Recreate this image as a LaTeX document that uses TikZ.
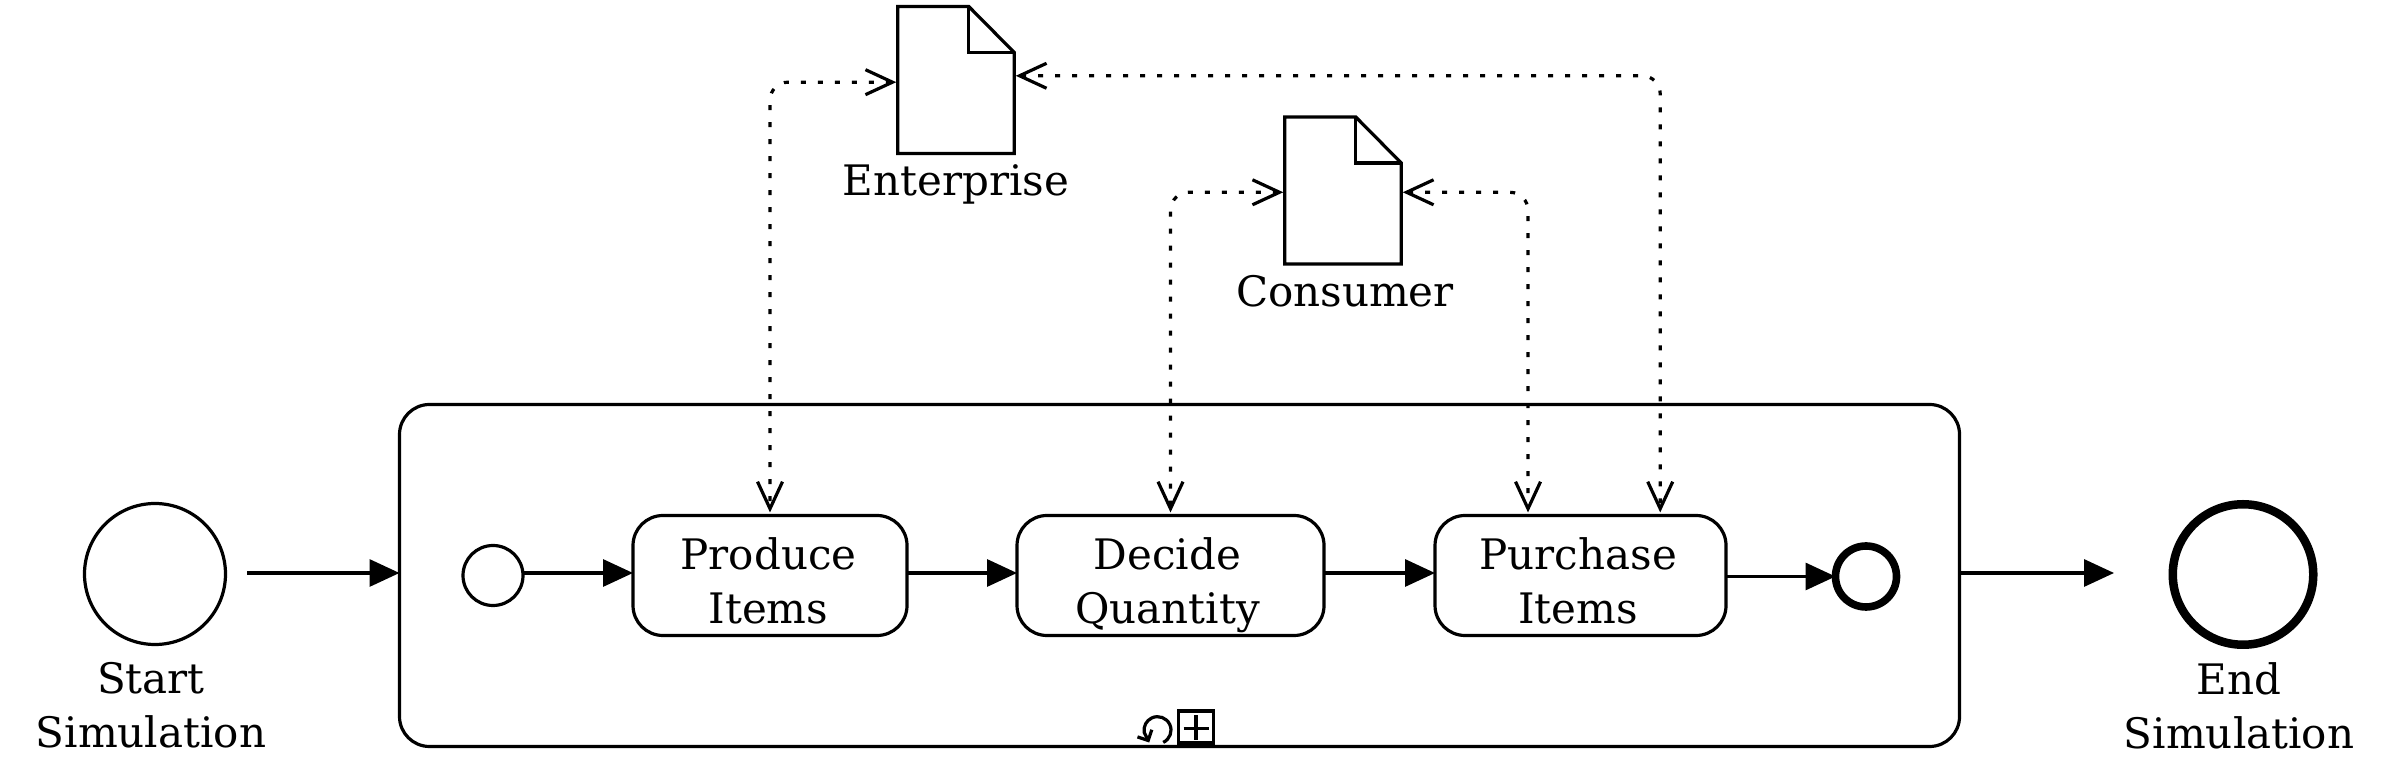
\documentclass[tikz,border=0pt]{standalone}
\usepackage{fontspec}
\setmainfont{DejaVu Serif}
\usepackage{tikz}
\usetikzlibrary{positioning}
\usetikzlibrary{arrows.meta}
\newcommand{\boxtext}[3]{\hspace*{#1}\rule{0pt}{0.42cm}#2\\\hspace*{#1}\smash{#3}}
\tikzset{
block/.style = {draw, rectangle, rounded corners=0.3cm, minimum height=1.2cm, inner sep=0pt, outer sep=0pt, align=center, font=\fontsize{11.95}{15.4}\selectfont},
event/.style = {draw, circle, inner sep=0pt, outer sep=0pt},
doc/.style = {rectangle, minimum width=1.165cm, minimum height=1.47cm, inner sep=0pt, outer sep=0pt},
caption/.style = {inner sep=0pt, outer sep=0pt, align=center, font=\fontsize{11.95}{15.4}\selectfont},
seq/.style = {-{Triangle[length=0.3cm,width=0.27cm]}},
assoc/.style = {dash pattern=on 0.05cm off 0.12cm, rounded corners=0.18cm, shorten <=0.015cm, shorten >=0.03cm,
  {Straight Barb[length=0.27cm,width=0.25cm]}-{Straight Barb[length=0.27cm,width=0.25cm]}}
}
\begin{document}
\begin{tikzpicture}[line width=0.032cm]
    \useasboundingbox (0,0) rectangle (23.97,7.77);
    % We start by placing the events and the blocks
    \node [event, minimum size=1.41cm] (start) at (1.55,2.03) {};
    \node [caption, below=0.18cm of start, xshift=-0.04cm] (startname) {Start\\Simulation};
    \node [draw, rectangle, rounded corners=0.3cm, minimum width=15.6cm, minimum height=3.42cm, outer sep=0pt] (frame) at (11.795,2.015) {};
    \node [event, minimum size=0.6cm] (inner) at (4.93,2.015) {};
    \node [block, minimum width=2.74cm, right=1.10cm of inner] (produce) {\boxtext{-0.03cm}{Produce}{Items}};
    \node [block, minimum width=3.07cm, right=1.10cm of produce] (decide) {\boxtext{-0.06cm}{Decide}{Quantity}};
    \node [block, minimum width=2.91cm, right=1.11cm of decide] (purchase) {\boxtext{-0.046cm}{Purchase}{Items}};
    \node [event, line width=0.076cm, minimum size=0.61cm] (innerend) at (18.66,2.005) {};
    \node [event, line width=0.085cm, minimum size=1.405cm] (end) at (22.43,2.025) {};
    \node [caption, below=0.18cm of end, xshift=-0.04cm] (endname) {End\\Simulation};
    \node [doc] (enterprise) at (9.56,6.97) {};
    \node [doc] (consumer) at (13.43,5.865) {};
    \node [caption, below=0.115cm of enterprise] (enterprisename) {Enterprise};
    \node [caption, below=0.115cm of consumer, xshift=0.02cm] (consumername) {Consumer};
    \coordinate [right=0.215cm of start, yshift=0.01cm] (startout);
    \coordinate (endin) at (21.14,2.04);

    % Document outlines
    \foreach \doc in {enterprise,consumer} {
      \draw ([xshift=-0.455cm]\doc.north east) -- ([yshift=-0.46cm]\doc.north east) -- (\doc.south east) -- (\doc.south west) -- (\doc.north west) -- cycle;
      \draw ([xshift=-0.455cm]\doc.north east) |- ([yshift=-0.46cm]\doc.north east);
    }

    \draw [seq] (startout) -- (frame.west |- startout);
    \draw [seq] ([yshift=0.025cm]inner.east) -- ([yshift=0.025cm]produce.west);
    \draw [seq] ([yshift=0.025cm]produce.east) -- ([yshift=0.025cm]decide.west);
    \draw [seq] ([yshift=0.025cm]decide.east) -- ([yshift=0.025cm]purchase.west);
    \draw [seq] (purchase.east |- innerend.west) -- (innerend.west);
    \draw [seq] (frame.east |- endin) -- (endin);

    \draw [assoc] ([yshift=-0.022cm]enterprise.west) -| (produce.north);
    \draw [assoc] ([yshift=0.042cm]enterprise.east) -| ([xshift=0.797cm]purchase.north);
    \draw [assoc] ([yshift=-0.018cm]consumer.west) -| (decide.north);
    \draw [assoc] ([yshift=-0.018cm]consumer.east) -| ([xshift=-0.525cm]purchase.north);

    % Loop and sub-process markers
    \node [draw, rectangle, minimum width=0.35cm, minimum height=0.32cm, inner sep=0pt, outer sep=0pt, anchor=south] (plusbox) at ([shift={(0.165cm,0.035cm)}]frame.south) {};
    \draw ([shift={(0.05cm,-0.015cm)}]plusbox.west) -- ([shift={(-0.05cm,-0.015cm)}]plusbox.east);
    \draw ([yshift=-0.045cm]plusbox.north) -- ([yshift=0.025cm]plusbox.south);
    \draw [-{Straight Barb[length=0.08cm,width=0.16cm]}] ([shift={(-0.163cm,0.041cm)}]frame.south) arc [start angle=-65, end angle=190, radius=0.135cm] -- ++(0.05,-0.1);
\end{tikzpicture}
\end{document}
